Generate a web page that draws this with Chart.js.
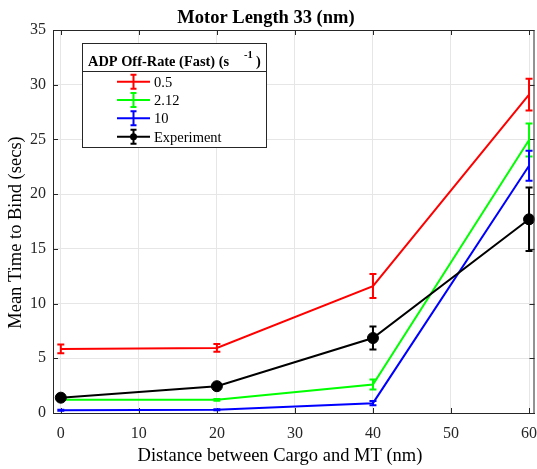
<!DOCTYPE html>
<html>
<head>
<meta charset="utf-8">
<script src="https://cdn.jsdelivr.net/npm/chart.js@4"></script>
<style>
  body { margin: 0; background: #fff; }
  canvas { display: block; }
</style>
</head>
<body>
<canvas id="chart" width="537" height="469"></canvas>
<script>
// distances (nm) and tick positions
var distances = [0, 20, 40, 60];
var xTicks = [0, 10, 20, 30, 40, 50, 60];

// legend labels and colours
var seriesLabels = ['0.5', '2.12', '10', 'Experiment'];
var seriesColors = ['#ff0000', '#00ff00', '#0000ff', '#000000'];

// mean time to bind (secs) with error half-widths
var rate05 = [5.85, 5.95, 11.6, 29.1];
var rate05Err = [0.4, 0.35, 1.1, 1.45];
var rate212 = [1.2, 1.2, 2.6, 24.95];
var rate212Err = [0.08, 0.08, 0.45, 1.5];
var rate10 = [0.25, 0.3, 0.9, 22.6];
var rate10Err = [0.05, 0.05, 0.2, 1.37];
var experiment = [1.4, 2.45, 6.85, 17.7];
var experimentErr = [0.3, 0.25, 1.05, 2.9];

var serif = "'Liberation Serif', 'Times New Roman', serif";
var axisColor = '#262626';

function points(vals) {
    return vals.map((v, i) => ({ x: distances[i], y: v }));
}

function makeSet(idx, vals, errs, order) {
    return {
        label: seriesLabels[idx],
        data: points(vals),
        errors: errs,
        borderColor: seriesColors[idx],
        backgroundColor: seriesColors[idx],
        borderWidth: 2,
        pointRadius: 0,
        pointBorderWidth: 1,
        tension: 0,
        order: order
    };
}

var datasets = [
    makeSet(0, rate05, rate05Err, 4),
    makeSet(1, rate212, rate212Err, 3),
    makeSet(2, rate10, rate10Err, 2),
    makeSet(3, experiment, experimentErr, 1)
];
datasets[3].pointRadius = 5.5;

function drawErrorBar(ctx, x, yTop, yBot, cap) {
    ctx.beginPath();
    ctx.moveTo(x, yTop);
    ctx.lineTo(x, yBot);
    ctx.moveTo(x - cap, yTop);
    ctx.lineTo(x + cap, yTop);
    ctx.moveTo(x - cap, yBot);
    ctx.lineTo(x + cap, yBot);
    ctx.stroke();
}

// vertical error bars, drawn right after each line so stacking follows the data
var errorBars = {
    id: 'errorBars',
    afterDatasetDraw(chart, args) {
        var ds = chart.data.datasets[args.index];
        if (!ds.errors) return;
        var ctx = chart.ctx;
        var xs = chart.scales.x, ys = chart.scales.y;
        ctx.save();
        ctx.strokeStyle = ds.borderColor;
        ctx.lineWidth = 2;
        ds.data.forEach((p, i) => {
            var e = ds.errors[i];
            var px = xs.getPixelForValue(p.x);
            drawErrorBar(ctx, px, ys.getPixelForValue(p.y + e), ys.getPixelForValue(p.y - e), 3.5);
        });
        ctx.restore();
    }
};

// box outline, inward ticks, titles and legend
var frame = {
    id: 'frame',
    beforeDatasetsDraw(chart) {
        var ctx = chart.ctx, a = chart.chartArea;
        var xs = chart.scales.x, ys = chart.scales.y;
        ctx.save();
        ctx.strokeStyle = axisColor;
        ctx.lineWidth = 1;
        ctx.beginPath();
        xs.ticks.forEach(t => {
            var px = Math.round(xs.getPixelForValue(t.value)) + 0.5;
            ctx.moveTo(px, a.bottom); ctx.lineTo(px, a.bottom - 5);
            ctx.moveTo(px, a.top); ctx.lineTo(px, a.top + 5);
        });
        ys.ticks.forEach(t => {
            var py = Math.round(ys.getPixelForValue(t.value)) + 0.5;
            ctx.moveTo(a.left, py); ctx.lineTo(a.left + 5, py);
            ctx.moveTo(a.right, py); ctx.lineTo(a.right - 5, py);
        });
        ctx.stroke();
        ctx.restore();
    },
    afterDraw(chart) {
        var ctx = chart.ctx, a = chart.chartArea;
        ctx.save();
        ctx.strokeStyle = axisColor;
        ctx.lineWidth = 1;
        ctx.strokeRect(a.left + 0.5, a.top + 0.5, a.right - a.left - 1, a.bottom - a.top);

        // chart and axis titles
        ctx.fillStyle = '#000';
        ctx.textAlign = 'center';
        ctx.textBaseline = 'alphabetic';
        ctx.font = 'bold 18.5px ' + serif;
        ctx.fillText('Motor Length 33 (nm)', 266, 22.5);
        ctx.font = '18.5px ' + serif;
        ctx.fillText('Distance between Cargo and MT (nm)', 280, 460.5);
        ctx.save();
        ctx.translate(21, 232.5);
        ctx.rotate(-Math.PI / 2);
        ctx.fillText('Mean Time to Bind (secs)', 0, 0);
        ctx.restore();

        // legend box
        var bx = 82.5, by = 43.5, bw = 184, bh = 104;
        ctx.fillStyle = '#fff';
        ctx.fillRect(bx, by, bw, bh);
        ctx.strokeRect(bx, by, bw, bh);
        ctx.beginPath();
        ctx.moveTo(bx, 71.5);
        ctx.lineTo(bx + bw, 71.5);
        ctx.stroke();

        ctx.fillStyle = '#000';
        ctx.textAlign = 'left';
        ctx.font = 'bold 14.4px ' + serif;
        ctx.fillText('ADP Off-Rate (Fast) (s', 88, 66);
        ctx.font = 'bold 10.5px ' + serif;
        ctx.fillText('-1', 244, 57.5);
        ctx.font = 'bold 14.4px ' + serif;
        ctx.fillText(')', 256, 66);

        ctx.font = '14.5px ' + serif;
        seriesLabels.forEach((lab, i) => {
            var y = 81.7 + i * 18.33;
            ctx.strokeStyle = seriesColors[i];
            ctx.lineWidth = 2;
            ctx.beginPath();
            ctx.moveTo(117, y);
            ctx.lineTo(150, y);
            ctx.stroke();
            drawErrorBar(ctx, 133.5, y - 7, y + 7, 3);
            if (i === 3) {
                ctx.fillStyle = seriesColors[i];
                ctx.beginPath();
                ctx.arc(133.5, y, 3.5, 0, Math.PI * 2);
                ctx.fill();
            }
            ctx.fillStyle = '#000';
            ctx.fillText(lab, 154, y + 5);
        });
        ctx.restore();
    }
};

new Chart(document.getElementById('chart').getContext('2d'), {
    type: 'line',
    data: { datasets: datasets },
    plugins: [errorBars, frame],
    options: {
        responsive: false,
        animation: false,
        layout: { autoPadding: false, padding: { top: 30, right: 2.5, left: 0, bottom: 0 } },
        plugins: {
            legend: { display: false },
            tooltip: { enabled: false }
        },
        scales: {
            x: {
                type: 'linear',
                min: -1,
                max: 60.7,
                afterBuildTicks: s => { s.ticks = xTicks.map(v => ({ value: v })); },
                afterFit: s => {
                    s.height = 56;
                    s.paddingLeft = 0;
                    s.paddingRight = 0;
                },
                grid: { color: '#e6e6e6', drawTicks: false },
                border: { color: axisColor },
                ticks: { color: '#262626', padding: 11, font: { family: serif, size: 16 } }
            },
            y: {
                min: 0,
                max: 35,
                ticks: { stepSize: 5, color: '#262626', padding: 7, font: { family: serif, size: 16 } },
                afterFit: s => { s.width = 53; },
                grid: { color: '#e6e6e6', drawTicks: false },
                border: { color: axisColor }
            }
        }
    }
});
</script>
</body>
</html>
